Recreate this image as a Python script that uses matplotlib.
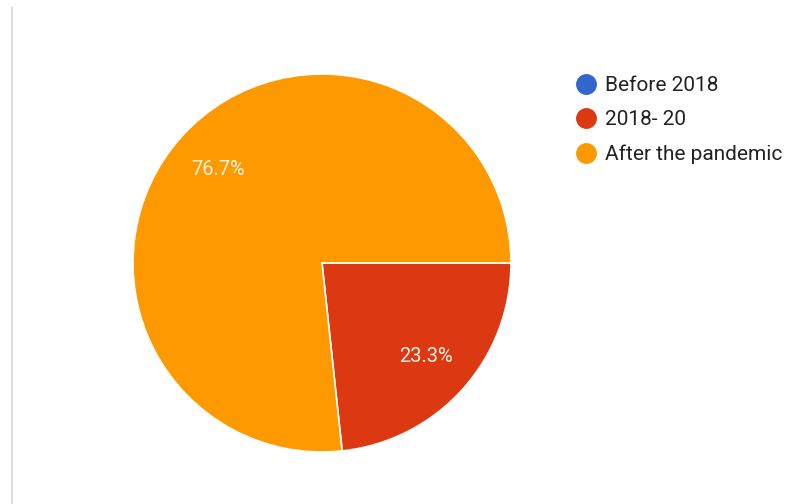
import matplotlib.pyplot as plt
from matplotlib.lines import Line2D

plt.rcParams['font.family'] = ['Roboto', 'DejaVu Sans']

# Data
labels = ["Before 2018", "2018- 20", "After the pandemic"]
shares = [0.0, 23.3, 76.7]
colors = ["#3366cc", "#dc3912", "#ff9900"]

fig = plt.figure(figsize=(7.85, 5.04), dpi=100)

# pie area: centre ~(322, 263) px, radius ~189 px
W, H = 785, 504
cx, cy, r = 322, 263, 189
ax = fig.add_axes([(cx - r) / W, (H - cy - r) / H, 2 * r / W, 2 * r / H])

# skip empty slices so no zero-width wedge is drawn
vals = [v for v in shares if v > 0]
cols = [c for v, c in zip(shares, colors) if v > 0]
wedges, texts, autotexts = ax.pie(
    vals, colors=cols, startangle=0, counterclock=False,
    autopct="%.1f%%", pctdistance=0.74,
    wedgeprops=dict(edgecolor="white", linewidth=1.2),
    textprops=dict(color="#fdf3e3", fontsize=14.5))
ax.set_xlim(-1, 1)
ax.set_ylim(-1, 1)
ax.set_aspect("equal")

handles = [Line2D([], [], marker="o", linestyle="", markersize=14,
                  markerfacecolor=c, markeredgecolor=c) for c in colors]
fig.legend(handles, labels, loc="upper left", bbox_to_anchor=(577 / W, 1 - 76 / H),
           frameon=False, fontsize=15, labelcolor="#222222",
           handlelength=0.9, handletextpad=0.45, labelspacing=0.74,
           borderaxespad=0, borderpad=0)

# thin grey frame line on the left edge
fig.add_artist(Line2D([12 / W, 12 / W], [0, 1 - 8 / H], color="#dcdcdc", linewidth=1.5))

fig.savefig("out.png", dpi=100)
